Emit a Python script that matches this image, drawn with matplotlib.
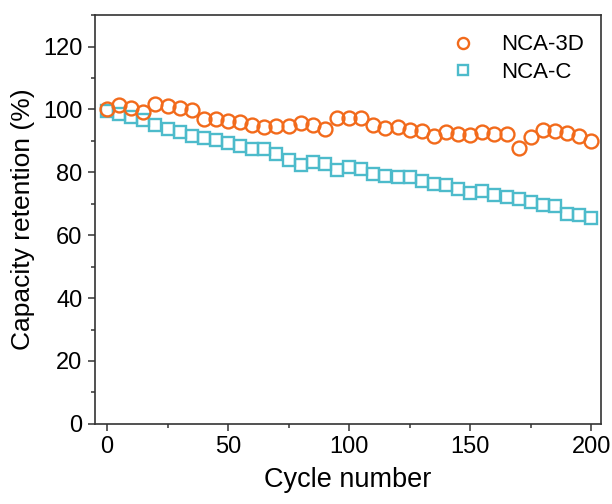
import numpy as np
import matplotlib
matplotlib.use("Agg")
import matplotlib.pyplot as plt
from matplotlib.ticker import MultipleLocator

plt.rcParams["font.family"] = ["Liberation Sans", "DejaVu Sans"]

# cycle numbers, one point every 5 cycles
cycles = np.arange(0, 201, 5)

# capacity retention (%)
nca_3d = [100.0, 101.3, 100.4, 99.2, 101.6, 101.0, 100.5, 99.9, 97.0, 97.0,
          96.3, 96.0, 94.9, 94.4, 94.6, 94.7, 95.8, 94.9, 93.9, 97.4,
          97.4, 97.4, 95.2, 94.1, 94.4, 93.5, 93.3, 91.7, 92.8, 92.3,
          92.0, 92.8, 92.3, 92.1, 87.8, 91.2, 93.5, 93.3, 92.6, 91.5,
          89.9]
nca_c = [99.5, 98.6, 97.6, 96.5, 95.2, 93.8, 92.8, 91.5, 90.9, 90.3,
         89.4, 88.4, 87.3, 87.3, 85.9, 84.0, 82.2, 83.3, 82.5, 80.6,
         81.7, 81.2, 79.6, 78.8, 78.5, 78.5, 77.2, 76.2, 75.9, 74.8,
         73.5, 74.0, 72.9, 72.2, 71.4, 70.6, 69.5, 69.2, 66.7, 66.3,
         65.6]

orange = "#F26A1B"
cyan = "#4DBBCB"

fig = plt.figure(figsize=(6.12, 5.04), dpi=100)
ax = fig.add_axes([0.155, 0.159, 0.827, 0.811])

ax.plot(cycles, nca_c, "s", ms=9, mfc="none", mec=cyan, mew=1.7,
        label="NCA-C", zorder=2)
ax.plot(cycles, nca_3d, "o", ms=10, mfc="none", mec=orange, mew=1.7,
        label="NCA-3D", zorder=3)

ax.set_xlim(-5, 204)
ax.set_ylim(0, 130)
ax.xaxis.set_major_locator(MultipleLocator(50))
ax.xaxis.set_minor_locator(MultipleLocator(25))
ax.yaxis.set_major_locator(MultipleLocator(20))
ax.yaxis.set_minor_locator(MultipleLocator(10))
ax.tick_params(which="both", direction="out", labelsize=17, width=1.1,
               color="#333333", pad=4)
ax.tick_params(which="major", length=5)
ax.tick_params(which="minor", length=3)
for s in ax.spines.values():
    s.set_linewidth(1.2)
    s.set_color("#333333")

ax.set_xlabel("Cycle number", fontsize=19.5, labelpad=6)
ax.set_ylabel("Capacity retention (%)", fontsize=19, labelpad=6)

handles, labels = ax.get_legend_handles_labels()
ax.legend(handles[::-1], labels[::-1], loc="upper left", frameon=False,
          fontsize=16, markerscale=0.8, handletextpad=0.7,
          bbox_to_anchor=(0.644, 1.002), labelspacing=0.3)

fig.savefig("out.png", dpi=100)
